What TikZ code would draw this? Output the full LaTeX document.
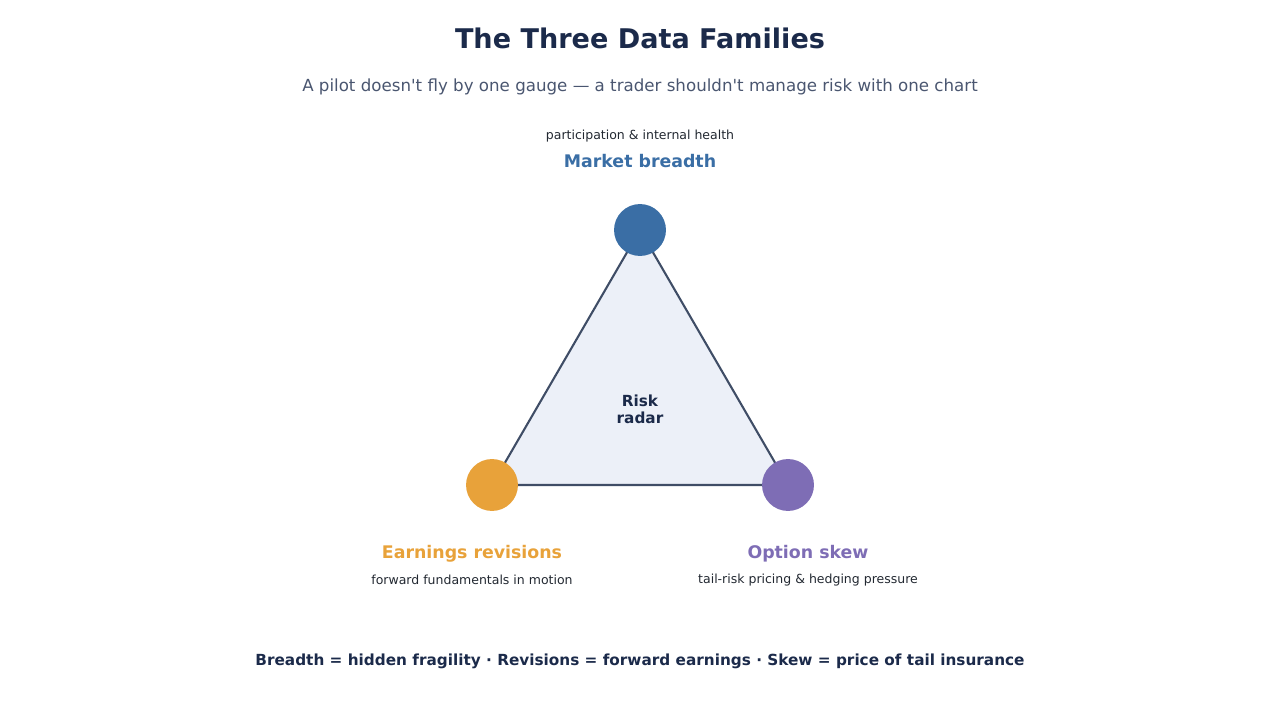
\documentclass[tikz,border=0pt]{standalone}
\usepackage{fontspec}
\setmainfont{DejaVu Sans}
\usetikzlibrary{positioning}
\definecolor{rdNavy}{HTML}{1B2A4A}
\definecolor{rdGray}{HTML}{4A5670}
\definecolor{rdInk}{HTML}{222831}
\definecolor{rdEdge}{HTML}{3F4D66}
\definecolor{rdFill}{HTML}{ECF0F8}
\definecolor{rdBlue}{HTML}{3A6EA5}
\definecolor{rdOrange}{HTML}{E8A23A}
\definecolor{rdPurple}{HTML}{7E6DB5}
\tikzset{
  rdfamily/.style={circle, minimum size=37.4pt, inner sep=0pt},
  rdname/.style={font=\fontsize{12.5}{14}\selectfont\bfseries, inner sep=0pt},
  rdnote/.style={font=\fontsize{9}{11}\selectfont, text=rdInk, inner sep=0pt},
}
\begin{document}
\begin{tikzpicture}[x=0.72pt, y=-0.72pt]
  \useasboundingbox (0,0) rectangle (1280,720);
  \node[font=\fontsize{19.5}{23}\selectfont\bfseries, text=rdNavy](title) at (640,38){The Three Data Families};
  \node[font=\fontsize{12}{14}\selectfont, text=rdGray](subtitle) at (640,87){A pilot doesn\textquotesingle t fly by one gauge — a trader shouldn\textquotesingle t manage risk with one chart};
  % the three corners
  \coordinate (pB) at (640,230);
  \coordinate (pR) at (492,485);
  \coordinate (pS) at (788,485);
  \draw[draw=rdEdge, fill=rdFill, line width=1.5pt, line join=round](pB)--(pS)--(pR)--cycle;
  \node[font=\fontsize{11}{12.5}\selectfont\bfseries, text=rdNavy, align=center](radar) at (640,409){Risk\\radar};
  \node[rdfamily, fill=rdBlue](breadth) at (pB){};
  \node[rdfamily, fill=rdOrange](revisions) at (pR){};
  \node[rdfamily, fill=rdPurple](skew) at (pS){};
  % labels
  \node[rdname, text=rdBlue](breadthname) at (640,161){Market breadth};
  \node[rdnote](breadthnote) at (640,136.5){participation \& internal health};
  \node[rdname, text=rdOrange](revisionsname) at (472,554){Earnings revisions};
  \node[rdnote](revisionsnote) at (472,580){forward fundamentals in motion};
  \node[rdname, text=rdPurple](skewname) at (808,554){Option skew};
  \node[rdnote](skewnote) at (808,580){tail-risk pricing \& hedging pressure};
  \node[font=\fontsize{11}{13}\selectfont\bfseries, text=rdNavy](footer) at (640,661){Breadth = hidden fragility · Revisions = forward earnings · Skew = price of tail insurance};
\end{tikzpicture}
\end{document}
